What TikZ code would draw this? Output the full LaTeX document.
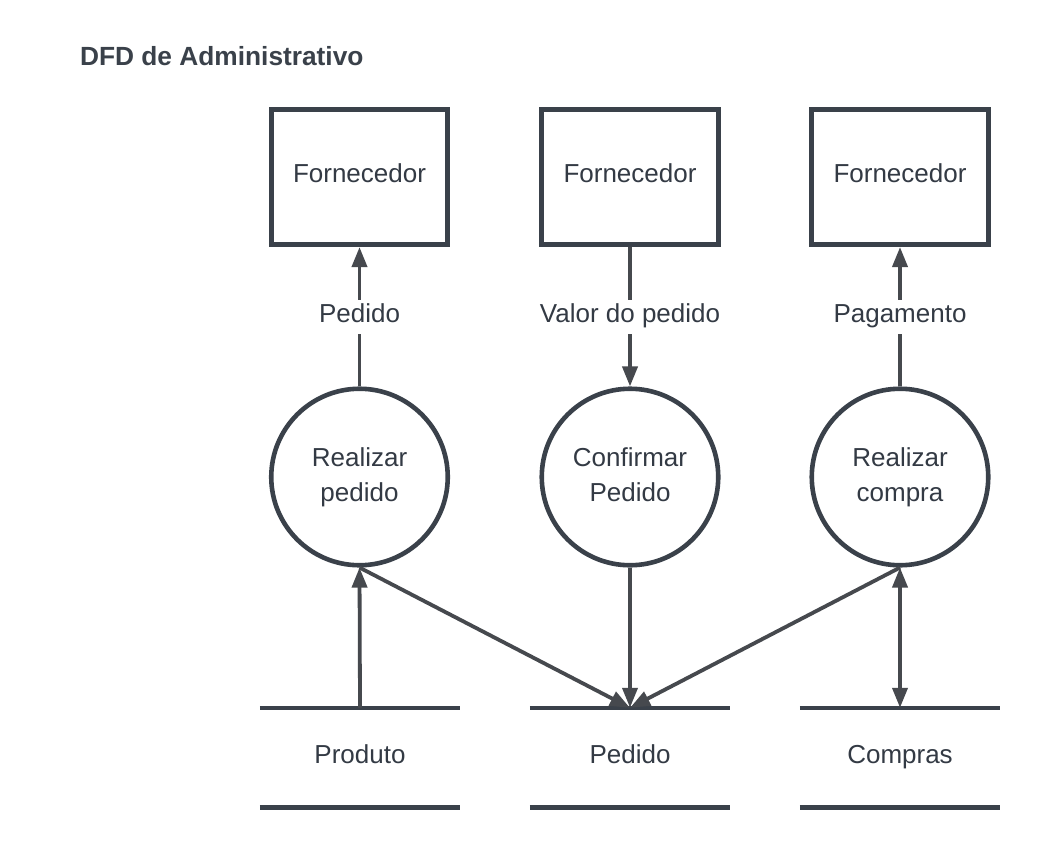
\documentclass[tikz,border=0pt]{standalone}
\usepackage{fontspec}
\setmainfont{Liberation Sans}
\usetikzlibrary{arrows.meta}
\definecolor{ink}{HTML}{3A414A}
\definecolor{txt}{HTML}{333A44}
\definecolor{arr}{HTML}{46494E}
\begin{document}
\begin{tikzpicture}[x=1pt,y=-1pt,
  lab/.style={font=\fontsize{26}{35}\selectfont, text=txt},
  one/.style={text height=18pt, text depth=6.5pt},
  ext/.style={lab, one, draw=ink, line width=4.6pt, minimum width=176.5pt, minimum height=135.5pt, inner sep=0pt},
  proc/.style={lab, circle, draw=ink, line width=4.6pt, minimum size=176.5pt, inner sep=0pt, align=center},
  store/.style={lab, one, minimum width=200pt, minimum height=99pt, inner sep=0pt},
  storeline/.style={draw=ink, line width=4.6pt},
  flow/.style={draw=arr, line width=3.8pt, -{Triangle[length=20pt,width=15pt]}},
  bothflow/.style={draw=arr, line width=3.8pt, {Triangle[length=20pt,width=15pt]}-{Triangle[length=20pt,width=15pt]}},
  lbl/.style={lab, one, fill=white, inner sep=5pt}]
\useasboundingbox (0,0) rectangle (1040,848);
\fill[white] (0,0) rectangle (1040,848);

\node[anchor=west, font=\bfseries\fontsize{26.3}{30}\selectfont, text=ink] (title) at (76.5,56) {DFD de Administrativo};

\node[ext] (f1) at (359.5,177) {Fornecedor};
\node[ext] (f2) at (630,177) {Fornecedor};
\node[ext] (f3) at (900,177) {Fornecedor};

\node[proc] (c1) at (359.5,477) {Realizar\strut\\pedido\strut};
\node[proc] (c2) at (630,477) {Confirmar\strut\\Pedido\strut};
\node[proc] (c3) at (900,477) {Realizar\strut\\compra\strut};

\node[store] (s1) at (360,757.5) {Produto};
\node[store] (s2) at (630,757.5) {Pedido};
\node[store] (s3) at (900,757.5) {Compras};
\foreach \s in {s1,s2,s3}{
  \draw[storeline] (\s.north west) -- (\s.north east);
  \draw[storeline] (\s.south west) -- (\s.south east);
}

\draw[flow] (c1.north) -- node[lbl] {Pedido} (f1.south);
\draw[flow] (f2.south) -- node[lbl] {Valor do pedido} (c2.north);
\draw[flow] (c3.north) -- node[lbl] {Pagamento} (f3.south);

\draw[flow] (s1.north) -- (c1.south);
\draw[flow] (c1.south) -- (s2.north);
\draw[flow] (c2.south) -- (s2.north);
\draw[flow] (c3.south) -- (s2.north);
\draw[bothflow] (s3.north) -- (c3.south);
\end{tikzpicture}
\end{document}
